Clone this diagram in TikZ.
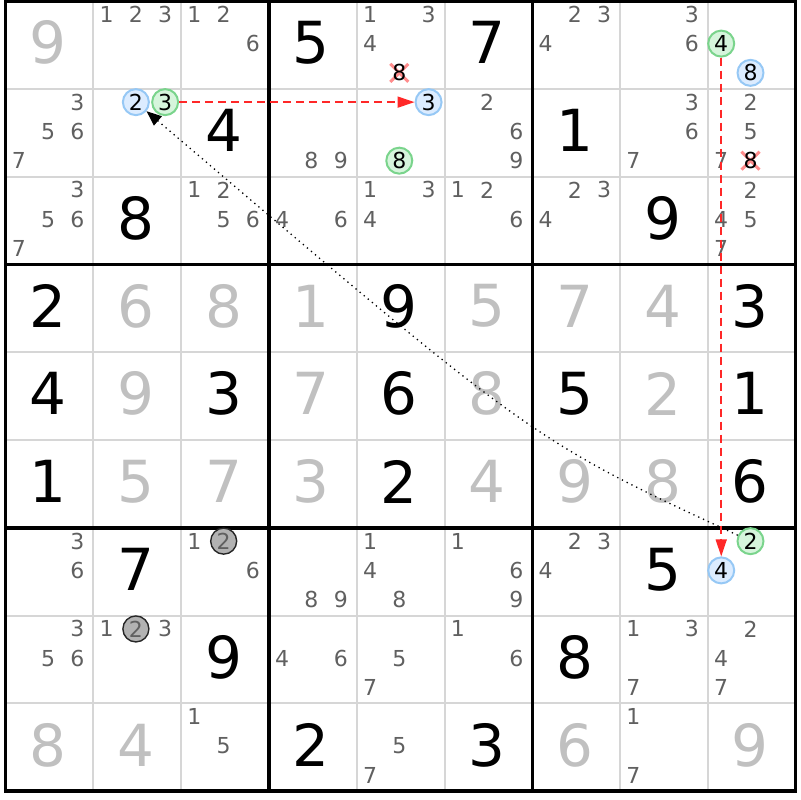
\documentclass[tikz,border=0pt]{standalone}
\usepackage{fontspec}
\setmainfont{DejaVu Sans}
\usetikzlibrary{arrows.meta}
\usetikzlibrary{shapes.misc}
\definecolor{candgray}{RGB}{96,96,96}
\definecolor{givengray}{RGB}{192,192,192}
\definecolor{gridgray}{RGB}{214,214,214}
\definecolor{linkred}{RGB}{255,40,40}
\definecolor{ongreen}{RGB}{122,212,140}
\definecolor{ongreenfill}{RGB}{214,245,220}
\definecolor{offblue}{RGB}{150,200,245}
\definecolor{offbluefill}{RGB}{220,236,255}
\definecolor{xpink}{RGB}{255,140,140}
\tikzset{struck/.style={cross out, draw=xpink, line width=1.5pt, fill=none, minimum size=2*(#1-\pgflinewidth), inner sep=0pt, outer sep=0pt}, struck/.default={6pt}}
\tikzset{solved/.style={font=\fontsize{29}{29}\selectfont, text=black, inner sep=0pt},
  faded/.style={solved, text=givengray},
  cand/.style={font=\fontsize{11}{11}\selectfont, text=candgray, inner sep=0pt},
  oncand/.style={cand, text=black, circle, draw=ongreen, fill=ongreenfill, line width=1pt, minimum size=13pt},
  offcand/.style={cand, text=black, circle, draw=offblue, fill=offbluefill, line width=1pt, minimum size=13pt},
  grycand/.style={cand, circle, draw=black!85, fill=black!30, line width=0.7pt, minimum size=13pt},
  strong/.style={draw=linkred, line width=0.8pt, dash pattern=on 4pt off 2.5pt, -{Triangle[length=8.5pt,width=5.5pt]}},
  weak/.style={draw=black, line width=0.65pt, dash pattern=on 0.65pt off 2pt, -{Triangle[length=7.5pt,width=6pt]}}}
% candidate spot: row, column, digit
\newcommand{\setcand}[3]{%
  \pgfmathsetmacro{\cx}{#2-1+(2*mod(#3-1,3)+1)/6-0.015}%
  \pgfmathsetmacro{\cy}{#1-1+(2*floor((#3-1)/3)+1)/6-0.015}}

\begin{document}
\begin{tikzpicture}[x=43.9pt,y=-43.9pt]
\useasboundingbox (-0.0626,-0.0114) rectangle (9.049,9.100);
% grid
\foreach \i in {1,2,4,5,7,8} {
  \draw[gridgray, line width=1pt] (\i,0) -- (\i,9);
  \draw[gridgray, line width=1pt] (0,\i) -- (9,\i);
}
\foreach \i in {3,6} {
  \draw[line width=1.75pt] (\i,0) -- (\i,9);
  \draw[line width=1.75pt] (0,\i) -- (9,\i);
}
\draw[line width=1.75pt] (0,0) rectangle (9,9);
% placed digits
\foreach \r/\c/\d in {1/4/5, 1/6/7, 2/3/4, 2/7/1, 3/2/8, 3/8/9, 4/1/2, 4/5/9, 4/9/3, 5/1/4, 5/3/3, 5/5/6, 5/7/5, 5/9/1, 6/1/1, 6/5/2, 6/9/6, 7/2/7, 7/8/5, 8/3/9, 8/7/8, 9/4/2, 9/6/3}
  \node[solved] (s\r\c) at (\c-0.516,\r-0.527) {\d};
\foreach \r/\c/\d in {1/1/9, 4/2/6, 4/3/8, 4/4/1, 4/6/5, 4/7/7, 4/8/4, 5/2/9, 5/4/7, 5/6/8, 5/8/2, 6/2/5, 6/3/7, 6/4/3, 6/6/4, 6/7/9, 6/8/8, 9/1/8, 9/2/4, 9/7/6, 9/9/9}
  \node[faded] (g\r\c) at (\c-0.516,\r-0.527) {\d};
% pencil marks
\foreach \r/\c/\ds in {1/2/{1,2,3}, 1/3/{1,2,6}, 1/5/{1,3,4}, 1/7/{2,3,4}, 1/8/{3,6},
    2/1/{3,5,6,7}, 2/4/{8,9}, 2/6/{2,6,9}, 2/8/{3,6,7}, 2/9/{2,5,7},
    3/1/{3,5,6,7}, 3/3/{1,2,5,6}, 3/4/{4,6}, 3/5/{1,3,4}, 3/6/{1,2,6}, 3/7/{2,3,4}, 3/9/{2,4,5,7},
    7/1/{3,6}, 7/3/{1,6}, 7/4/{8,9}, 7/5/{1,4,8}, 7/6/{1,6,9}, 7/7/{2,3,4},
    8/1/{3,5,6}, 8/2/{1,3}, 8/4/{4,6}, 8/5/{5,7}, 8/6/{1,6}, 8/8/{1,3,7}, 8/9/{2,4,7},
    9/3/{1,5}, 9/5/{5,7}, 9/8/{1,7}} {
  \foreach \d in \ds {
    \setcand{\r}{\c}{\d}
    \node[cand] (c\r\c\d) at (\cx,\cy) {\d};
  }
}
% eliminated
\foreach \r/\c/\d in {1/5/8, 2/9/8} {
  \setcand{\r}{\c}{\d}
  \node[struck] (x\r\c\d) at (\cx,\cy) {};
  \node[cand, text=black] (c\r\c\d) at (\cx,\cy) {\d};
}
% marked candidates
\foreach \r/\c/\d in {7/3/2, 8/2/2} {
  \setcand{\r}{\c}{\d}
  \node[grycand] (m\r\c\d) at (\cx,\cy) {\d};
}
\foreach \r/\c/\d in {2/2/3, 2/5/8, 1/9/4, 7/9/2} {
  \setcand{\r}{\c}{\d}
  \node[oncand] (on\r\c\d) at (\cx,\cy) {\d};
}
\foreach \r/\c/\d in {2/2/2, 2/5/3, 1/9/8, 7/9/4} {
  \setcand{\r}{\c}{\d}
  \node[offcand] (off\r\c\d) at (\cx,\cy) {\d};
}
% chain links
\coordinate (bend) at (6,5);
\draw[strong] (on223) -- (off253);
\draw[strong] (on194) -- (off794);
\draw[weak] (on792) .. controls (bend) .. (off222);
\end{tikzpicture}
\end{document}
